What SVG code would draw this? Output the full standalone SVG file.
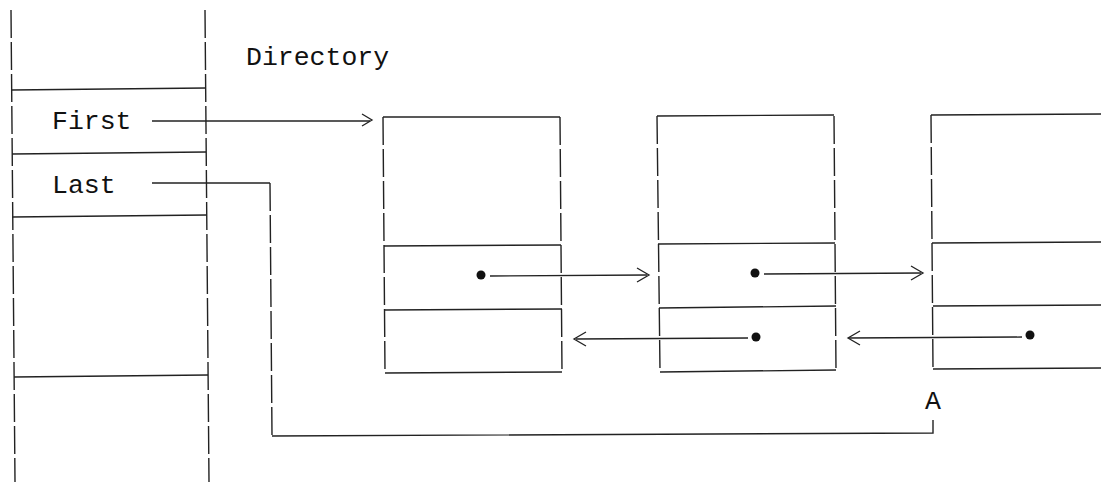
<svg xmlns="http://www.w3.org/2000/svg" width="1101" height="482" viewBox="0 0 1101 482">
<style>
.v{stroke:#222;stroke-width:1.4;stroke-dasharray:28 4;fill:none}
.h{stroke:#222;stroke-width:1.4;fill:none}
.c{stroke:#222;stroke-width:1.3;fill:none}
.t{font-family:"Liberation Mono","DejaVu Sans Mono",monospace;font-size:26.5px;fill:#111}
.d{fill:#111}
</style>
<rect width="1101" height="482" fill="#fff"/>
<g id="directory">
<line class="v" x1="11" y1="10" x2="15" y2="482"/>
<line class="v" x1="205" y1="10" x2="209" y2="482"/>
<line class="h" x1="11" y1="90" x2="206" y2="88"/>
<line class="h" x1="12" y1="154" x2="206" y2="152"/>
<line class="h" x1="12" y1="217" x2="207" y2="215"/>
<line class="h" x1="14" y1="377" x2="208" y2="375"/>
<text class="t" x="246" y="65">Directory</text>
<text class="t" x="52" y="129">First</text>
<text class="t" x="52" y="193">Last</text>
</g>
<g id="node1">
<line class="v" x1="383" y1="117" x2="385" y2="373"/>
<line class="v" x1="560" y1="117" x2="562" y2="373"/>
<line class="h" x1="383" y1="117" x2="560" y2="117"/>
<line class="h" x1="384" y1="246" x2="561" y2="245"/>
<line class="h" x1="384" y1="310" x2="562" y2="309"/>
<line class="h" x1="385" y1="373" x2="562" y2="372"/>
</g>
<g id="node2">
<line class="v" x1="657" y1="116" x2="660" y2="371"/>
<line class="v" x1="834" y1="116" x2="836" y2="371"/>
<line class="h" x1="657" y1="116" x2="834" y2="115"/>
<line class="h" x1="658" y1="244" x2="835" y2="243"/>
<line class="h" x1="659" y1="308" x2="836" y2="306"/>
<line class="h" x1="660" y1="372" x2="836" y2="370"/>
</g>
<g id="node3">
<line class="v" x1="931" y1="115" x2="933" y2="369"/>
<line class="h" x1="931" y1="115" x2="1101" y2="114"/>
<line class="h" x1="932" y1="243" x2="1101" y2="242"/>
<line class="h" x1="933" y1="306" x2="1101" y2="305"/>
<line class="h" x1="933" y1="369" x2="1101" y2="368"/>
<text class="t" x="925" y="409">A</text>
</g>
<g id="connectors">
<line class="c" x1="152" y1="121" x2="370" y2="121"/>
<polyline class="c" points="362,114 372,120 362,126"/>
<polyline class="c" points="152,183 270,183"/>
<polyline class="v" points="270,183 272,436"/>
<polyline class="h" points="272,436 933,433 933,420"/>
<circle class="d" cx="481" cy="275" r="4.5"/>
<line class="c" x1="490" y1="276" x2="647" y2="275"/>
<polyline class="c" points="637,268 649,275 637,282"/>
<circle class="d" cx="755" cy="273" r="4.5"/>
<line class="c" x1="764" y1="274" x2="921" y2="273"/>
<polyline class="c" points="911,266 923,273 911,280"/>
<circle class="d" cx="756" cy="337" r="4.5"/>
<line class="c" x1="576" y1="339" x2="748" y2="338"/>
<polyline class="c" points="586,332 574,339 586,346"/>
<circle class="d" cx="1030" cy="335" r="4.5"/>
<line class="c" x1="849" y1="338" x2="1022" y2="337"/>
<polyline class="c" points="860,331 848,338 860,345"/>
</g>
</svg>
